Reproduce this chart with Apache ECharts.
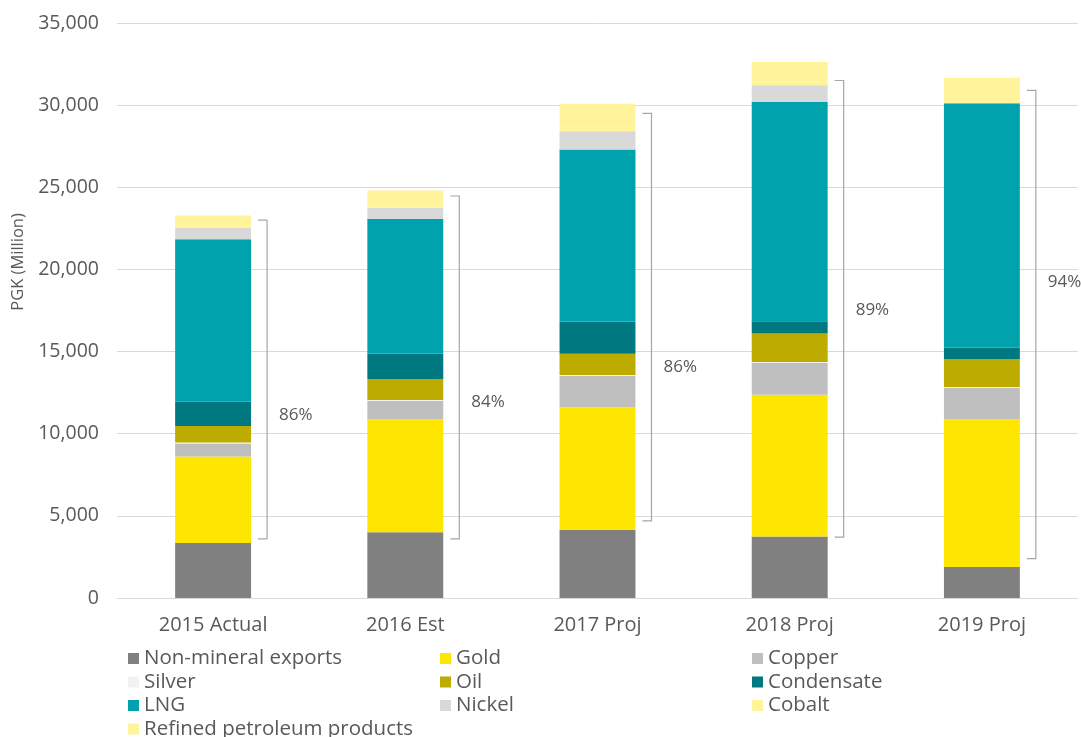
<!DOCTYPE html>
<html>
<head>
<meta charset="utf-8">
<script src="https://cdn.jsdelivr.net/npm/echarts@6/dist/echarts.min.js"></script>
<style>
  html, body { margin: 0; padding: 0; background: #ffffff; }
  #chart { width: 1081px; height: 737px; }
</style>
</head>
<body>
<div id="chart"></div>
<script>
// Export values, PGK million, by year
const years = ['2015 Actual', '2016 Est', '2017 Proj', '2018 Proj', '2019 Proj'];

const nonMineral = [3350, 4000, 4150, 3740, 1880];
const gold       = [5260, 6900, 7460, 8630, 9010];
const copper     = [800, 1100, 1910, 1950, 1900];
const silver     = [50, 50, 50, 50, 50];
const oil        = [1010, 1280, 1290, 1730, 1690];
const condensate = [1480, 1560, 1970, 740, 720];
const lng        = [9880, 8200, 10470, 13360, 14870];
const nickel     = [690, 670, 1110, 1010, 0];
const cobalt     = [150, 150, 250, 230, 0];
const refined    = [620, 900, 1430, 1190, 1540];

// Bracket span (value units) and where its share label sits
const bracketTop    = [23000, 24470, 29500, 31500, 30900];
const bracketBottom = [3600, 3600, 4700, 3700, 2400];
const shareLabelAt  = [11150, 11940, 14060, 17530, 19230];

const yTicks = { min: 0, max: 35000, interval: 5000 };

const seriesDefs = [
  ['Non-mineral exports', nonMineral, '#808080'],
  ['Gold', gold, '#ffe600'],
  ['Copper', copper, '#bfbfbf'],
  ['Silver', silver, '#f2f2f2'],
  ['Oil', oil, '#bdab00'],
  ['Condensate', condensate, '#007880'],
  ['LNG', lng, '#00a3ad'],
  ['Nickel', nickel, '#d9d9d9'],
  ['Cobalt', cobalt, '#fff49b'],
  ['Refined petroleum products', refined, '#fff49b']
];

// Share of exports excluding non-mineral exports
const totals = years.map((_, i) => seriesDefs.reduce((s, d) => s + d[1][i], 0));
const shares = years.map((_, i) => Math.round(100 * (totals[i] - nonMineral[i]) / totals[i]) + '%');

const FONT = '"Open Sans", "Liberation Sans", sans-serif';
const BAR_FRAC = 0.395;

const barSeries = seriesDefs.map(([name, values, color]) => ({
  name: name,
  type: 'bar',
  stack: 'total',
  barWidth: (BAR_FRAC * 100) + '%',
  data: values,
  itemStyle: { color: color },
  emphasis: { disabled: true }
}));

const bracketSeries = {
  type: 'custom',
  name: 'share',
  silent: true,
  z: 5,
  data: years.map((_, i) => [i, bracketTop[i], bracketBottom[i], shareLabelAt[i]]),
  encode: { x: 0, y: [1, 2, 3] },
  renderItem: function (params, api) {
    const i = api.value(0);
    const top = api.coord([i, api.value(1)]);
    const bot = api.coord([i, api.value(2)]);
    const lab = api.coord([i, api.value(3)]);
    const band = api.size([1, 0])[0];
    const x = top[0] + band * BAR_FRAC / 2 + 16;
    const tick = 9;
    return {
      type: 'group',
      children: [
        {
          type: 'polyline',
          shape: { points: [[x - tick, top[1]], [x, top[1]], [x, bot[1]], [x - tick, bot[1]]] },
          style: { stroke: '#a6a6a6', lineWidth: 1.2, fill: null }
        },
        {
          type: 'text',
          style: {
            x: x + 12, y: lab[1],
            text: shares[params.dataIndex],
            fill: '#595959',
            font: '17px ' + FONT,
            verticalAlign: 'middle',
            align: 'left'
          }
        }
      ]
    };
  }
};

const chart = echarts.init(document.getElementById('chart'), null, { renderer: 'canvas' });
chart.setOption({
  animation: false,
  backgroundColor: '#ffffff',
  grid: { left: 117, right: 3, top: 23, bottom: 139, containLabel: false },
  xAxis: {
    type: 'category',
    data: years,
    axisTick: { show: false },
    axisLine: { lineStyle: { color: '#d9d9d9', width: 1 } },
    axisLabel: { color: '#595959', fontSize: 20, fontFamily: FONT, margin: 17 }
  },
  yAxis: {
    type: 'value',
    min: yTicks.min,
    max: yTicks.max,
    interval: yTicks.interval,
    axisLine: { show: false },
    axisTick: { show: false },
    splitLine: { lineStyle: { color: '#d9d9d9', width: 1 } },
    axisLabel: {
      color: '#595959', fontSize: 19.5, fontFamily: FONT, margin: 18,
      formatter: v => v.toLocaleString('en-US')
    }
  },
  legend: {
    data: seriesDefs.map(d => d[0]),
    left: 123,
    top: 643,
    width: 950,
    orient: 'horizontal',
    icon: 'rect',
    itemWidth: 11,
    itemHeight: 11,
    itemGap: 2.5,
    selectedMode: false,
    textStyle: {
      color: '#595959', fontSize: 20.5, fontFamily: FONT,
      width: 293.5, lineHeight: 19, overflow: 'truncate'
    }
  },
  graphic: [{
    type: 'text',
    x: 18, y: 262,
    rotation: Math.PI / 2,
    style: {
      text: 'PGK (Million)',
      fill: '#595959',
      font: '16.5px ' + FONT,
      align: 'center',
      verticalAlign: 'middle'
    }
  }],
  series: barSeries.concat([bracketSeries])
});
</script>
</body>
</html>
